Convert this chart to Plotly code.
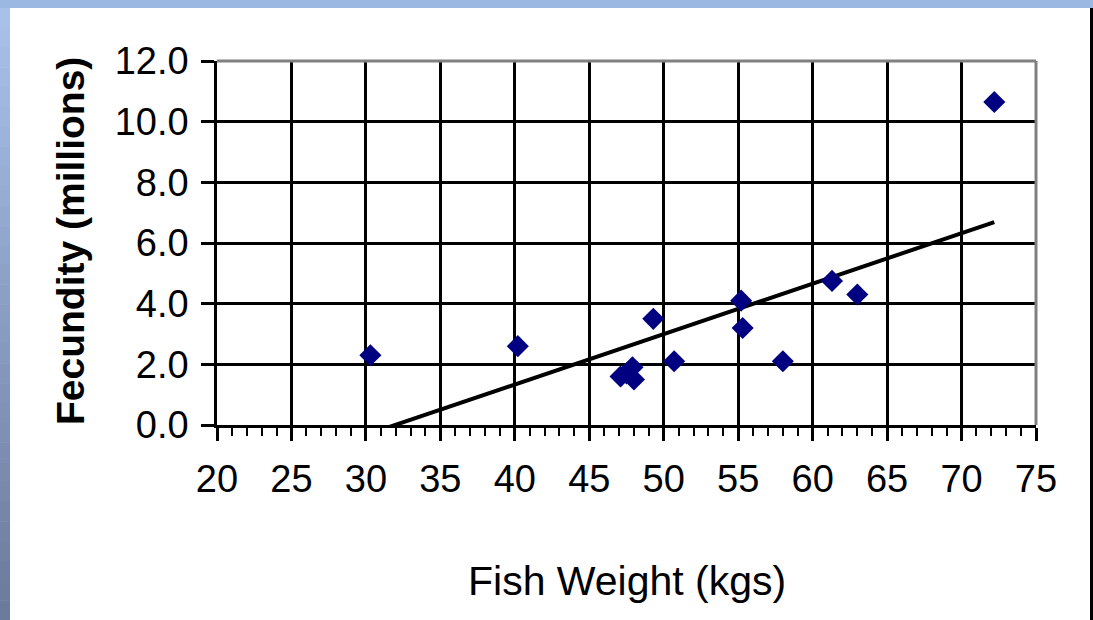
import numpy as np
import plotly.graph_objects as go

# ---- data ----
fish_weight = [30.3, 40.2, 47.1, 47.5, 47.9, 48.0, 49.3, 50.7, 55.2, 55.3, 58.0, 61.3, 63.0, 72.2]
fecundity = [2.3, 2.6, 1.6, 1.7, 1.9, 1.5, 3.5, 2.1, 4.1, 3.2, 2.1, 4.75, 4.3, 10.65]
x_ticks = [20, 25, 30, 35, 40, 45, 50, 55, 60, 65, 70, 75]
y_ticks = [0, 2, 4, 6, 8, 10, 12]
x_title = "Fish Weight (kgs)"
y_title = "Fecundity (millions)"

# linear trend line (least squares), spanning the data range
slope, intercept = np.polyfit(fish_weight, fecundity, 1)
trend_x = [min(fish_weight), max(fish_weight)]
trend_y = [slope * v + intercept for v in trend_x]

W, H = 1093, 620
L, R, T, B = 217, 1036, 61, 425  # plot area in pixels


def px(x):
    return (x - L) / (R - L)


def py(y):
    return (B - y) / (B - T)


FONT = "Liberation Sans, Arial, sans-serif"

fig = go.Figure()
fig.add_trace(go.Scatter(
    x=trend_x, y=trend_y, mode="lines",
    line=dict(color="black", width=4), showlegend=False, hoverinfo="skip"))
fig.add_trace(go.Scatter(
    x=fish_weight, y=fecundity, mode="markers",
    marker=dict(symbol="diamond", size=17, color="#000080", line=dict(width=0)),
    showlegend=False, cliponaxis=False))

shapes = []
# top blue strip
shapes.append(dict(type="rect", xref="paper", yref="paper", x0=px(0), x1=px(W), y0=py(8), y1=py(0),
                   fillcolor="#9ab8e2", line=dict(width=0), layer="above"))
# left gradient strip
n = 31
c0 = np.array([168, 193, 235])
c1 = np.array([108, 123, 156])
for i in range(n):
    t = i / (n - 1)
    c = (c0 * (1 - t) + c1 * t).astype(int)
    y0p = 8 + i * (H - 8) / n
    y1p = 8 + (i + 1) * (H - 8) / n + 0.5
    shapes.append(dict(type="rect", xref="paper", yref="paper", x0=px(0), x1=px(10), y0=py(y1p), y1=py(y0p),
                       fillcolor=f"rgb({c[0]},{c[1]},{c[2]})", line=dict(width=0), layer="above"))
# right black edge
shapes.append(dict(type="rect", xref="paper", yref="paper", x0=px(1090), x1=px(W), y0=py(H), y1=py(8),
                   fillcolor="black", line=dict(width=0), layer="above"))
# gray top and right plot border
shapes.append(dict(type="line", xref="paper", yref="paper", x0=0, x1=1, y0=1, y1=1,
                   line=dict(color="#808080", width=3), layer="above"))
shapes.append(dict(type="line", xref="paper", yref="paper", x0=1, x1=1, y0=0, y1=1,
                   line=dict(color="#808080", width=3), layer="above"))

annotations = [
    dict(text=x_title, xref="paper", yref="paper", x=0.5, y=py(581), xanchor="center", yanchor="middle",
         showarrow=False, font=dict(family=FONT, size=41, color="black")),
    dict(text="<b>" + y_title + "</b>", xref="paper", yref="paper", x=px(70), y=py(241), xanchor="center",
         yanchor="middle", textangle=-90, showarrow=False, font=dict(family=FONT, size=39, color="black")),
]

fig.update_layout(
    width=W, height=H,
    margin=dict(l=L, r=W - R, t=T, b=H - B, pad=0),
    paper_bgcolor="white", plot_bgcolor="white",
    font=dict(family=FONT, color="black"),
    shapes=shapes, annotations=annotations,
    xaxis=dict(range=[20, 75], tickvals=x_ticks, ticktext=[str(v) for v in x_ticks],
               showgrid=True, gridcolor="black", gridwidth=2.5,
               showline=True, linecolor="black", linewidth=3,
               ticks="outside", ticklen=13, tickwidth=2.5, tickcolor="black",
               minor=dict(dtick=1, tick0=0, ticks="outside", ticklen=8, tickwidth=2, tickcolor="black", showgrid=False),
               ticklabelstandoff=5,
               tickfont=dict(family=FONT, size=38, color="black"), zeroline=False, fixedrange=True),
    yaxis=dict(range=[0, 12], tickvals=y_ticks, ticktext=[f"{v:.1f}" for v in y_ticks],
               showgrid=True, gridcolor="black", gridwidth=3,
               showline=True, linecolor="black", linewidth=2.5,
               ticks="outside", ticklen=13, tickwidth=3, tickcolor="black",
               ticklabelstandoff=5,
               tickfont=dict(family=FONT, size=38, color="black"), zeroline=False, fixedrange=True),
)

fig.write_html("out.html")
